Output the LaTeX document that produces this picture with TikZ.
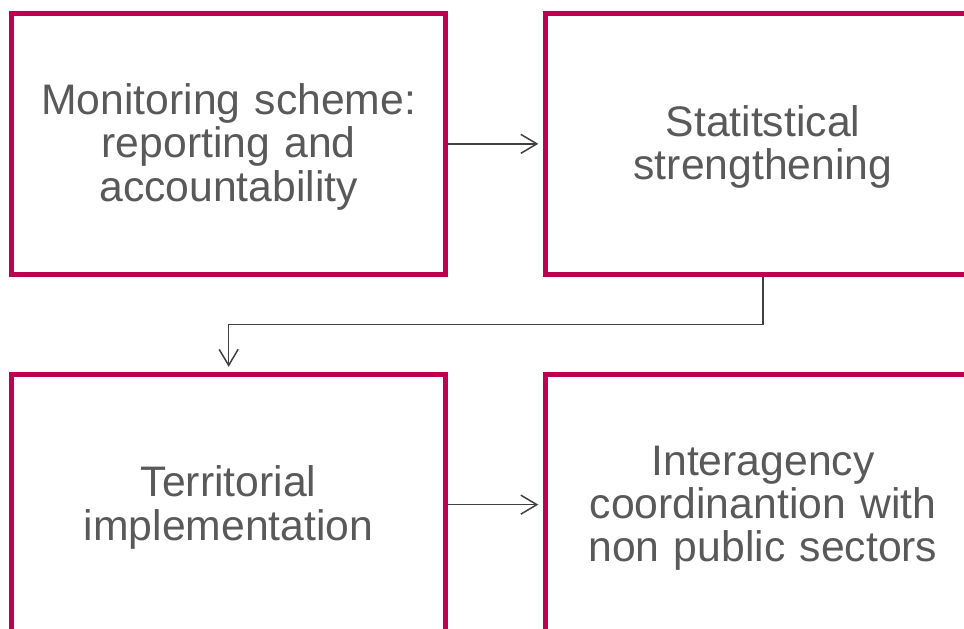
\documentclass[tikz,border=0pt]{standalone}
\usepackage{fontspec}
\setmainfont{Liberation Sans}
\usetikzlibrary{arrows.meta}
\definecolor{boxred}{RGB}{190,0,82}
\definecolor{txtgray}{RGB}{89,89,89}
\definecolor{arrgray}{RGB}{64,64,64}
\tikzset{
  stagebox/.style={draw=boxred, line width=5pt, minimum width=434.3pt, minimum height=260.7pt,
    inner sep=0pt, text width=420pt, align=center, text=txtgray,
    font=\fontsize{42.7pt}{43.3pt}\selectfont,
    execute at begin node={\rule{0pt}{36.8pt}}},
  flowarrow/.style={draw=arrgray, line width=1.5pt, -{Straight Barb[length=16pt,width=19pt,line width=1.5pt]}, shorten >=5pt}
}
\begin{document}
\begin{tikzpicture}[x=1pt,y=-1pt]
\useasboundingbox (0,0) rectangle (964,629);
\clip (0,0) rectangle (964,629);
\node[stagebox] (tl) at (228.65,143.85) {Monitoring scheme:\\reporting and\\accountability};
\node[stagebox] (tr) at (762.95,143.85) {Statitstical\\strengthening};
\node[stagebox] (bl) at (228.65,504.65) {Territorial\\implementation};
\node[stagebox] (br) at (762.95,504.65) {Interagency\\coordinantion with\\non public sectors};
\coordinate (bend) at (762.95,324.3);
\draw[flowarrow] (tl.east) -- (tr.west);
\draw[flowarrow] (tr.south) -- (bend) -| (bl.north);
\draw[flowarrow] (bl.east) -- (br.west);
\end{tikzpicture}
\end{document}
